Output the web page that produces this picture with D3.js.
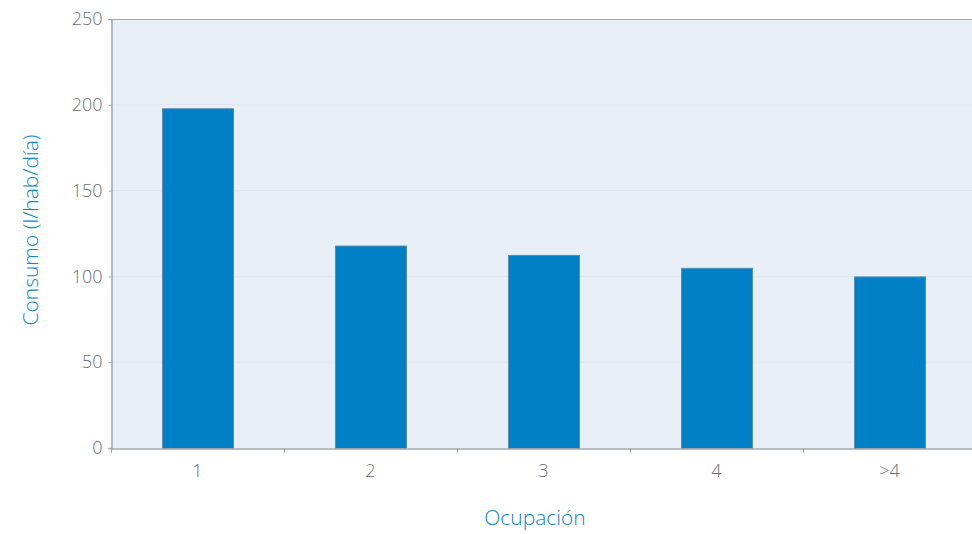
<!DOCTYPE html>
<html><head><meta charset="utf-8">
<script src="https://cdn.jsdelivr.net/npm/d3@7"></script>
<style>body{margin:0;background:#fff}text{font-family:"Open Sans",sans-serif}</style>
</head><body><svg id="c" width="972" height="534"></svg>
<script>
const categories = ["1","2","3","4",">4"];
const values = [198, 118, 112.5, 105, 100];
const yTicks = [0,50,100,150,200,250];

const svg = d3.select("#c");
const m = {l:111, t:19, r:972, b:448};
const x = d3.scaleBand().domain(categories).range([m.l, 976]).paddingInner(0).paddingOuter(0);
const y = d3.scaleLinear().domain([0,250]).range([m.b, m.t]);

svg.append("rect").attr("x",m.l).attr("y",m.t).attr("width",m.r-m.l).attr("height",m.b-m.t).attr("fill","#e9eff7");
svg.append("g").selectAll("line").data(yTicks.slice(1,-1)).join("line")
  .attr("x1",m.l).attr("x2",m.r).attr("y1",d=>y(d)).attr("y2",d=>y(d)).attr("stroke","#dde5ef").attr("stroke-width",1);
svg.append("line").attr("x1",m.l-3).attr("x2",m.r).attr("y1",y(250)+0.5).attr("y2",y(250)+0.5).attr("stroke","#a3a7ab");

const bw = 71;
svg.append("g").selectAll("rect").data(values).join("rect")
  .attr("x",(d,i)=>x(categories[i])+x.bandwidth()/2-bw/2+0.5)
  .attr("y",d=>y(d)+0.5).attr("width",bw).attr("height",d=>y(0)-y(d))
  .attr("fill","#0080c6").attr("stroke","#5b8db0").attr("stroke-width",1);

// y axis
const ya = svg.append("g").attr("transform",`translate(${m.l+0.5},0)`)
  .call(d3.axisLeft(y).tickValues(yTicks).tickSize(3).tickPadding(6));
ya.select(".domain").attr("stroke","#a3a7ab").attr("stroke-width",1.5);
ya.selectAll(".tick line").attr("stroke","#a3a7ab");
ya.selectAll("text").attr("fill","#6b6f73").attr("font-size",18).attr("font-weight",300);

// x axis
const xa = svg.append("g").attr("transform",`translate(0,${m.b+0.5})`)
  .call(d3.axisBottom(x).tickSize(0).tickPadding(16));
xa.select(".domain").attr("stroke","#a3a7ab").attr("stroke-width",1.5);
xa.selectAll("text").attr("fill","#6b6f73").attr("font-size",18).attr("font-weight",300);
svg.append("g").selectAll("line").data(categories).join("line")
  .attr("x1",d=>x(d)+0.5).attr("x2",d=>x(d)+0.5).attr("y1",m.b).attr("y2",m.b+5).attr("stroke","#a3a7ab");

svg.append("text").attr("x",535).attr("y",525).attr("text-anchor","middle").attr("fill","#0a86c8")
  .attr("font-size",21).attr("font-weight",300).text("Ocupación");
svg.append("text").attr("transform","translate(38,230) rotate(-90)").attr("text-anchor","middle").attr("fill","#0a86c8")
  .attr("font-size",21).attr("font-weight",300).text("Consumo (l/hab/día)");
</script></body></html>
